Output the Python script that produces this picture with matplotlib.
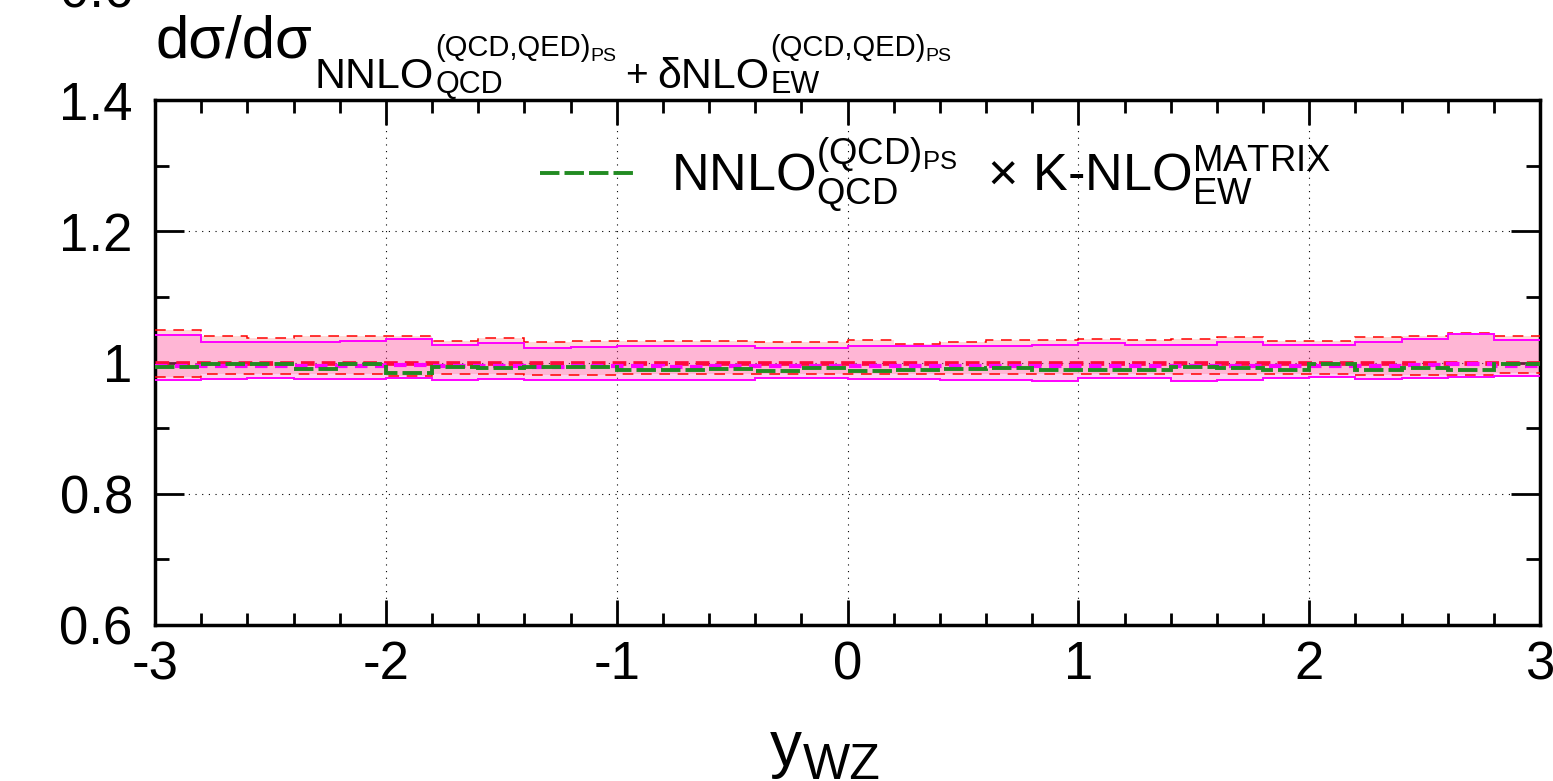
import numpy as np
import matplotlib
matplotlib.use("Agg")
import matplotlib.pyplot as plt
import matplotlib.transforms as mtransforms
from matplotlib.lines import Line2D
from matplotlib.ticker import MultipleLocator

plt.rcParams["font.family"] = ["Liberation Sans", "DejaVu Sans"]
plt.rcParams["mathtext.fontset"] = "custom"
plt.rcParams["mathtext.rm"] = "Liberation Sans"
plt.rcParams["mathtext.it"] = "Liberation Sans:italic"
plt.rcParams["mathtext.bf"] = "Liberation Sans:bold"
plt.rcParams["axes.unicode_minus"] = False

# =========================================================
# DATA  (ratio to NNLO_QCD + dNLO_EW, 30 bins of 0.2 in y_WZ)
# =========================================================
edges = np.linspace(-3.0, 3.0, 31)

# reference curve, normalised to itself
ref_ratio = [1.0, 1.0, 1.0, 1.0, 1.0, 1.0, 1.0, 1.0, 1.0, 1.0,
             1.0, 1.0, 1.0, 1.0, 1.0, 1.0, 1.0, 1.0, 1.0, 1.0,
             1.0, 1.0, 1.0, 1.0, 1.0, 1.0, 1.0, 1.0, 1.0, 1.0]
ref_up = [1.049, 1.040, 1.038, 1.040, 1.040, 1.041, 1.0335, 1.0376, 1.031, 1.0325,
          1.0335, 1.0335, 1.0335, 1.031, 1.032, 1.0346, 1.0285, 1.032, 1.0346, 1.035,
          1.036, 1.0346, 1.036, 1.0386, 1.0335, 1.0335, 1.0396, 1.041, 1.0447, 1.040]
ref_lo = [0.978, 0.982, 0.983, 0.983, 0.983, 0.980, 0.983, 0.983, 0.981, 0.981,
          0.983, 0.983, 0.983, 0.983, 0.983, 0.983, 0.983, 0.983, 0.982, 0.983,
          0.983, 0.983, 0.982, 0.982, 0.983, 0.983, 0.981, 0.981, 0.981, 0.984]

# second prediction with its scale band
mag_c = [0.994, 0.995, 0.995, 0.994, 0.995, 0.996, 0.994, 0.994, 0.993, 0.994,
         0.994, 0.993, 0.994, 0.994, 0.995, 0.994, 0.995, 0.994, 0.995, 0.994,
         0.995, 0.995, 0.994, 0.995, 0.995, 0.994, 0.995, 0.996, 0.997, 0.995]
mag_up = [1.042, 1.032, 1.0305, 1.032, 1.0335, 1.036, 1.026, 1.0295, 1.022, 1.0234,
          1.0244, 1.0244, 1.0244, 1.0224, 1.0224, 1.0244, 1.0244, 1.0244, 1.0254, 1.027,
          1.0295, 1.0274, 1.0274, 1.031, 1.026, 1.026, 1.032, 1.036, 1.0437, 1.035]
mag_lo = [0.9736, 0.975, 0.9766, 0.975, 0.975, 0.9766, 0.9736, 0.975, 0.9726, 0.9736,
          0.9736, 0.9736, 0.9736, 0.9766, 0.9766, 0.975, 0.975, 0.9736, 0.9726, 0.9715,
          0.9766, 0.9766, 0.972, 0.973, 0.9766, 0.9776, 0.975, 0.9766, 0.9776, 0.980]

# NNLO_QCD x K-NLO_EW
mult = [0.993, 0.998, 0.998, 0.990, 0.998, 0.984, 0.993, 0.992, 0.993, 0.993,
        0.989, 0.989, 0.990, 0.987, 0.992, 0.987, 0.988, 0.990, 0.992, 0.989,
        0.989, 0.989, 0.993, 0.992, 0.988, 0.998, 0.989, 0.992, 0.989, 0.998]

y_ticks = [0.6, 0.8, 1.0, 1.2, 1.4]
y_ticklabels = ["0.6", "0.8", "1", "1.2", "1.4"]
x_ticks = [-3, -2, -1, 0, 1, 2, 3]

W, H = 1553, 781

# =========================================================
# FIGURE
# =========================================================
fig = plt.figure(figsize=(W / 100, H / 100), dpi=100)
ax = fig.add_axes([155 / W, 1 - 625 / H, 1385 / W, 525 / H])

# bands
ax.stairs(ref_up, edges, baseline=ref_lo, fill=True,
          facecolor=(1.0, 0.0, 0.0, 0.15), edgecolor="none", zorder=2)
ax.stairs(mag_up, edges, baseline=mag_lo, fill=True,
          facecolor=(1.0, 0.4, 0.8, 0.30), edgecolor="none", zorder=2)

# band edges
ax.stairs(ref_up, edges, baseline=None, color="#ff0000", lw=1.1, ls=(0, (7, 5)), zorder=3)
ax.stairs(ref_lo, edges, baseline=None, color="#ff0000", lw=1.1, ls=(0, (7, 5)), zorder=3)
ax.stairs(mag_up, edges, baseline=None, color="#ff00ff", lw=1.4, zorder=3)
ax.stairs(mag_lo, edges, baseline=None, color="#ff00ff", lw=1.4, zorder=3)

# central curves
ax.stairs(ref_ratio, edges, baseline=None, color="#ff0a3c", lw=3.4,
          ls=(0, (2.9, 1.5)), zorder=4)
ax.stairs(mag_c, edges, baseline=None, color="#ff00ff", lw=3.0,
          ls=(0, (3.0, 1.8)), zorder=4)
ax.stairs(mult, edges, baseline=None, color="#228b22", lw=2.8,
          ls=(0, (5.0, 1.3)), zorder=5)

# axes
ax.set_xlim(-3, 3)
ax.set_ylim(0.6, 1.4)
ax.set_xticks(x_ticks)
ax.set_xticklabels([str(v) for v in x_ticks])
ax.set_yticks(y_ticks)
ax.set_yticklabels(y_ticklabels)
ax.xaxis.set_minor_locator(MultipleLocator(0.2))
ax.yaxis.set_minor_locator(MultipleLocator(0.1))

ax.tick_params(axis="both", which="both", direction="in", top=True, right=True,
               labelsize=38, width=2.0, colors="black")
ax.tick_params(axis="x", which="major", length=18, pad=11)
ax.tick_params(axis="x", which="minor", length=9)
ax.tick_params(axis="y", which="major", length=21, pad=16)
ax.tick_params(axis="y", which="minor", length=10)

for s in ax.spines.values():
    s.set_linewidth(2.5)

ax.grid(True, which="major", color="black", lw=0.8, ls=(0, (1, 5)), zorder=0)
ax.set_axisbelow(True)

# legend
h = Line2D([], [], color="#228b22", lw=2.8, ls=(0, (5.0, 1.3)))
ax.legend([h],
          [r"$\mathrm{NNLO}^{\mathrm{(QCD)}_{\mathrm{PS}}}_{\mathrm{QCD}}$  × "
           r"$\mathrm{K\text{-}NLO}^{\mathrm{MATRIX}}_{\mathrm{EW}}$"],
          loc="center left", bbox_to_anchor=(0.278, 0.857),
          frameon=False, fontsize=37.5, handlelength=1.82, handletextpad=0.70,
          borderpad=0, borderaxespad=0)


# ratio label above the frame, laid out piece by piece in pixels
def put_runs(x0, items):
    rend = fig.canvas.get_renderer()
    x = x0
    for rows, gap in items:
        wmax = 0.0
        for row in rows:
            xr = x
            for txt, size, base in row:
                t = fig.text(xr, H - base, txt, fontsize=size, ha="left",
                             va="baseline", transform=mtransforms.IdentityTransform())
                xr += t.get_window_extent(rend).width
            wmax = max(wmax, xr - x)
        x += wmax + gap


put_runs(155, [
    ([[("dσ/dσ", 43, 58)]], 3),
    ([[("NNLO", 31, 88)]], 1),
    ([[("(QCD,QED)", 21, 56), ("PS", 14, 61)],
      [("QCD", 22, 93)]], 9),
    ([[("+", 28, 86)]], 9),
    ([[("δNLO", 31, 88)]], 1),
    ([[("(QCD,QED)", 21, 56), ("PS", 14, 61)],
      [("EW", 22, 93)]], 0),
])

# tick label of the panel above
fig.text(133 / W, 1 + 6 / H, "0.6", fontsize=38, ha="right", va="center")

# x axis label
put_runs(770, [
    ([[("y", 46, 766)]], 1),
    ([[("WZ", 36, 779)]], 0),
])

fig.savefig("out.png", dpi=100)
